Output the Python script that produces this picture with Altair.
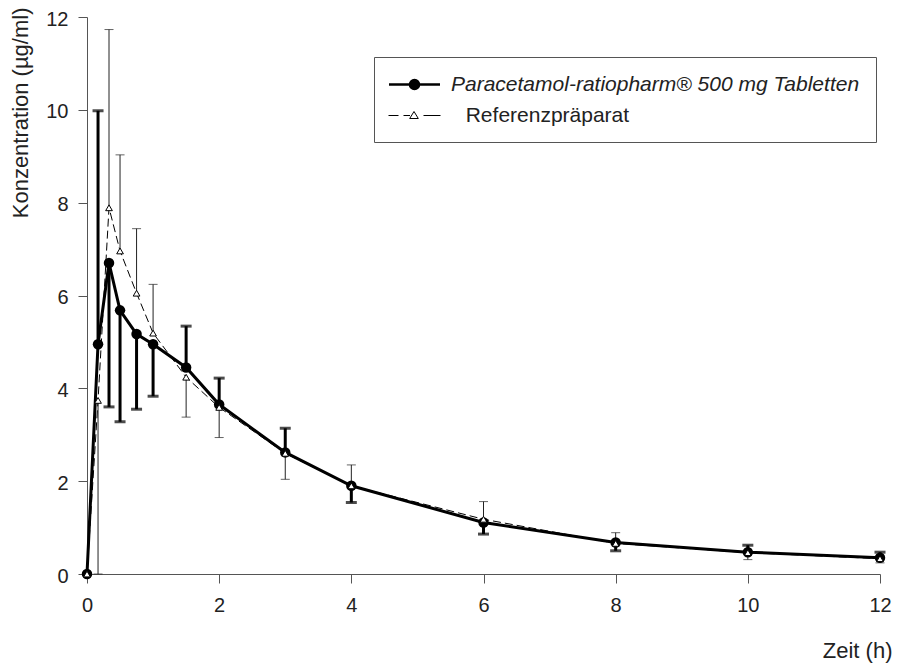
import altair as alt
import pandas as pd

# ---- data ----
times = [0, 0.167, 0.333, 0.5, 0.75, 1, 1.5, 2, 3, 4, 6, 8, 10, 12]
para_mean = [0, 4.95, 6.70, 5.68, 5.17, 4.95, 4.45, 3.65, 2.62, 1.90, 1.11, 0.68, 0.47, 0.35]
para_bar = [None, 9.98, 3.60, 3.28, 3.55, 3.83, 5.34, 4.22, 3.14, 1.54, 0.86, 0.50, 0.62, 0.47]
ref_mean = [0, 3.74, 7.89, 6.96, 6.05, 5.19, 4.24, 3.59, 2.60, 1.90, 1.18, 0.66, 0.46, 0.33]
ref_bar = [None, 0.0, 11.73, 9.03, 7.44, 6.24, 3.38, 2.94, 2.04, 2.35, 1.56, 0.89, 0.31, 0.24]

S1 = "Paracetamol-ratiopharm\u00ae 500 mg Tabletten"
S2 = "\u200b\u2002\u2009Referenzpräparat"
x_ticks = [0, 2, 4, 6, 8, 10, 12]
y_ticks = [0, 2, 4, 6, 8, 10, 12]

rows = []
for t, m, b in zip(times, para_mean, para_bar):
    rows.append({"time": t, "series": S1, "mean": m, "bar": b})
for t, m, b in zip(times, ref_mean, ref_bar):
    rows.append({"time": t, "series": S2, "mean": m, "bar": b})
df = pd.DataFrame(rows)

FONT = "Liberation Sans"

x_enc = alt.X("time:Q", scale=alt.Scale(domain=[0, 12], nice=False),
              axis=alt.Axis(values=x_ticks, title="Zeit (h)", titleX=805, titleY=76,
                            titleAlign="right", titleBaseline="middle", titleFontSize=22,
                            labelPadding=12, labelFlush=False, format="d"))
y_enc = alt.Y("mean:Q", scale=alt.Scale(domain=[0, 12], nice=False),
              axis=alt.Axis(values=y_ticks, title="Konzentration (µg/ml)", titleX=-67, titleY=-10,
                            titleAlign="right", titleAngle=270, titleBaseline="middle",
                            titleFontSize=22, labelPadding=10, labelOffset=2, labelFlush=False,
                            format="d"))

base = alt.Chart(df)
para = base.transform_filter(alt.datum.series == S1)
ref = base.transform_filter(alt.datum.series == S2)
para_b = para.transform_filter("isValid(datum.bar)")
ref_b = ref.transform_filter("isValid(datum.bar)")

ref_line = ref.mark_line(color="black", strokeWidth=1, strokeDash=[8, 4]).encode(x=x_enc, y=y_enc)
ref_rule = ref_b.mark_rule(color="#222", strokeWidth=1).encode(x="time:Q", y="mean:Q", y2="bar:Q")
ref_cap = ref_b.mark_tick(color="#222", orient="horizontal", size=9, thickness=1).encode(x="time:Q", y="bar:Q")

para_line = para.mark_line(color="black", strokeWidth=3).encode(x="time:Q", y="mean:Q")
para_rule = para_b.mark_rule(color="black", strokeWidth=3).encode(x="time:Q", y="mean:Q", y2="bar:Q")
para_cap = para_b.mark_tick(color="black", orient="horizontal", size=11, thickness=3).encode(x="time:Q", y="bar:Q")
para_pts = para.mark_point(shape="circle", filled=True, color="black", size=110, opacity=1).encode(x="time:Q", y="mean:Q")
ref_pts = ref.mark_point(shape="triangle-up", fill="white", stroke="black", strokeWidth=1,
                         size=45, opacity=1).encode(x="time:Q", y="mean:Q")

# legend symbols: line + marker drawn as one custom path per series
path1 = ("M-2.55,0H2.55 M-0.45,0A0.45,0.45 0 1,0 0.45,0A0.45,0.45 0 1,0 -0.45,0Z")
path2 = ("M-2.6,0H-1.6 M-1.1,0H-0.45 M-0.05,-0.4L0.38,0.3L-0.48,0.3Z M0.9,0H2.6")
leg = dict(title=None, orient="none", legendX=287, legendY=40, symbolSize=400,
           symbolOffset=13, labelOffset=25, labelFontSize=21, labelFont=FONT,
           labelColor="#222", labelLimit=0, rowPadding=9, padding=16,
           strokeColor="#555", fillColor="white",
           labelFontStyle={"expr": "datum.value == '%s' ? 'italic' : 'normal'" % S1})
dom = [S1, S2]
legend_layer = base.transform_filter("false").mark_point(color="black", opacity=1).encode(
    shape=alt.Shape("series:N", scale=alt.Scale(domain=dom, range=[path1, path2]), legend=alt.Legend(**leg)),
    fill=alt.Fill("series:N", scale=alt.Scale(domain=dom, range=["black", "white"]), legend=alt.Legend(**leg)),
    strokeWidth=alt.StrokeWidth("series:O", scale=alt.Scale(domain=dom, range=[2.6, 1]), legend=alt.Legend(**leg)),
)

chart = alt.layer(
    ref_line, ref_rule, ref_cap, para_line, para_rule, para_cap, para_pts, ref_pts, legend_layer
).properties(
    width=793, height=557,
    autosize=alt.AutoSizeParams(type="none"),
    padding={"left": 79, "top": 9, "right": 15, "bottom": 90},
).configure_view(stroke=None).configure_axis(
    grid=False, domainColor="#555", tickColor="#555", tickSize=9,
    labelFont=FONT, labelFontSize=20, labelColor="#222",
    titleFont=FONT, titleFontWeight="normal", titleColor="#222",
)

chart.save("out.html", embed_options={"renderer": "svg", "actions": False})
